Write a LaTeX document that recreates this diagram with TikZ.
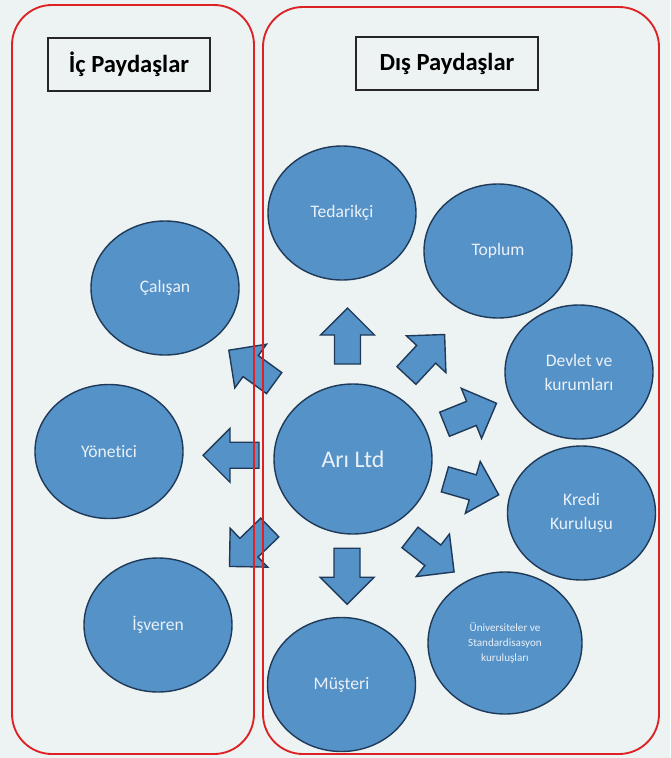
\documentclass[tikz,border=0pt]{standalone}
\usepackage{fontspec}
\setmainfont{Carlito}[Ligatures=NoCommon]
\usetikzlibrary{calc,shapes.geometric}

\definecolor{pagebg}{HTML}{EDF3F3}
\definecolor{bubblefill}{HTML}{5592C8}
\definecolor{bubbleline}{HTML}{1F3A58}
\definecolor{bubbletext}{HTML}{EAF1F8}
\definecolor{framered}{HTML}{DD2226}

% block arrow between two nodes: #1 from, #2 to, #3 position on the line, #4 angle
\newcommand{\blockarrow}[4]{%
  \begin{scope}[shift={($(#1.center)!#3!(#2.center)$)}, rotate=#4]
    \draw[arrowshape] (-28,-13) -- (1,-13) -- (1,-27) -- (28,0) -- (1,27) -- (1,13) -- (-28,13) -- cycle;
  \end{scope}}

\begin{document}
\begin{tikzpicture}[x=0.03cm,y=-0.03cm]
\tikzstyle{frame}=[draw=framered, line width=1.6pt, rounded corners=1.2cm]
\tikzstyle{titlebox}=[draw=black!85, line width=1.1pt, minimum height=1.59cm, inner sep=0pt, font=\fontsize{21}{25}\selectfont\bfseries]
\tikzstyle{bubble}=[ellipse, draw=bubbleline, line width=1.2pt, fill=bubblefill, text=bubbletext, minimum width=4.44cm, minimum height=4.02cm, inner sep=0pt, align=center, font=\fontsize{15}{20.5}\selectfont]
\tikzstyle{arrowshape}=[draw=bubbleline, line width=1.2pt, fill=bubblefill, line join=miter]

\fill[pagebg] (0,0) rectangle (670,758);

\node[titlebox, minimum width=4.86cm] (ictitle) at (129,64.5) {İç Paydaşlar};
\node[titlebox, minimum width=5.46cm] (distitle) at (447,63.5) {Dış Paydaşlar};

% center
\node[bubble, minimum width=4.74cm, minimum height=4.5cm, font=\fontsize{20.4}{24}\selectfont] (ari) at (353,459) {Arı Ltd};

% internal
\node[bubble] (calisan) at (165,288) {Çalışan};
\node[bubble] (yonetici) at (109,451.5) {Yönetici};
\node[bubble] (isveren) at (158,625) {İşveren};

% external
\node[bubble] (tedarikci) at (342,213) {Tedarikçi};
\node[bubble] (toplum) at (498,251) {Toplum};
\node[bubble] (devlet) at (579,372) {Devlet ve\\kurumları};
\node[bubble] (kredi) at (581.5,513) {Kredi\\Kuruluşu};
\node[bubble, minimum width=4.62cm, minimum height=4.26cm, font=\fontsize{9.5}{12.8}\selectfont] (univ) at (505,643) {Üniversiteler ve\\Standardisasyon\\kuruluşları};
\node[bubble] (musteri) at (341.5,684.5) {Müşteri};

\blockarrow{ari}{calisan}{0.54}{144}
\blockarrow{ari}{yonetici}{0.5}{180}
\blockarrow{ari}{isveren}{0.53}{224}
\blockarrow{ari}{tedarikci}{0.5}{90}
\blockarrow{ari}{toplum}{0.5}{47}
\blockarrow{ari}{devlet}{0.52}{22}
\blockarrow{ari}{kredi}{0.52}{-16}
\blockarrow{ari}{univ}{0.52}{-38}
\blockarrow{ari}{musteri}{0.52}{-90}

\draw[frame] (12,5) rectangle (254,754);
\draw[frame] (263,7) rectangle (659,754);
\end{tikzpicture}
\end{document}
